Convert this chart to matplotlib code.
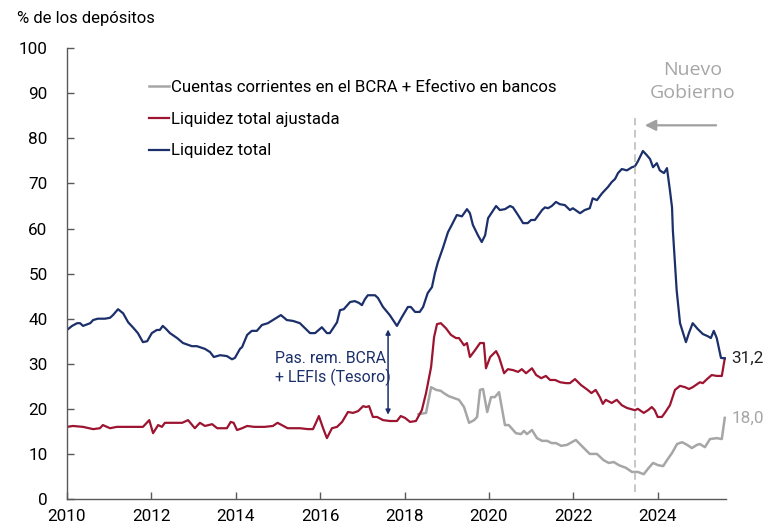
import matplotlib
matplotlib.use("Agg")
import matplotlib.pyplot as plt

plt.rcParams['font.family'] = ['Roboto', 'DejaVu Sans']

# Liquidez total (decimal year, % of deposits)
blue_x = [2010.0, 2010.12, 2010.24, 2010.31, 2010.38, 2010.55, 2010.62, 2010.73, 2010.90, 2011.02,
          2011.09, 2011.21, 2011.33, 2011.45, 2011.56, 2011.68, 2011.80, 2011.90, 2012.01, 2012.13,
          2012.20, 2012.27, 2012.35, 2012.44, 2012.61, 2012.75, 2012.96, 2013.08, 2013.27, 2013.39,
          2013.48, 2013.63, 2013.79, 2013.91, 2013.98, 2014.10, 2014.15, 2014.27, 2014.38, 2014.50,
          2014.62, 2014.69, 2014.76, 2014.88, 2015.07, 2015.21, 2015.36, 2015.52, 2015.64, 2015.76,
          2015.88, 2016.04, 2016.16, 2016.23, 2016.40, 2016.47, 2016.56, 2016.71, 2016.82, 2016.92,
          2016.99, 2017.06, 2017.13, 2017.30, 2017.37, 2017.49, 2017.65, 2017.82, 2017.94, 2018.08,
          2018.15, 2018.25, 2018.36, 2018.44, 2018.55, 2018.65, 2018.72, 2018.79, 2018.91, 2019.03,
          2019.12, 2019.24, 2019.36, 2019.48, 2019.55, 2019.62, 2019.74, 2019.83, 2019.91, 2019.98,
          2020.07, 2020.17, 2020.26, 2020.38, 2020.50, 2020.57, 2020.69, 2020.81, 2020.92, 2021.00,
          2021.09, 2021.26, 2021.33, 2021.40, 2021.49, 2021.59, 2021.68, 2021.80, 2021.92, 2021.99,
          2022.16, 2022.27, 2022.39, 2022.46, 2022.56, 2022.68, 2022.82, 2022.91, 2022.99, 2023.06,
          2023.15, 2023.27, 2023.39, 2023.46, 2023.53, 2023.65, 2023.74, 2023.82, 2023.89, 2023.98,
          2024.05, 2024.15, 2024.22, 2024.29, 2024.34, 2024.36, 2024.41, 2024.45, 2024.53, 2024.67,
          2024.74, 2024.83, 2024.95, 2025.07, 2025.19, 2025.26, 2025.33, 2025.40, 2025.50, 2025.59]
blue_y = [37.5, 38.4, 39.0, 39.0, 38.4, 39.0, 39.7, 40.0, 40.0, 40.2,
          40.8, 42.1, 41.2, 39.2, 38.1, 36.8, 34.8, 35.0, 36.8, 37.5,
          37.5, 38.4, 37.7, 36.8, 35.7, 34.6, 33.9, 33.9, 33.3, 32.6,
          31.5, 31.9, 31.7, 31.0, 31.3, 33.3, 33.7, 36.4, 37.3, 37.3,
          38.6, 38.8, 39.0, 39.7, 40.8, 39.7, 39.5, 39.0, 37.9, 36.8,
          36.8, 38.1, 36.8, 36.8, 39.2, 41.9, 42.1, 43.7, 43.9, 43.5,
          43.0, 44.3, 45.2, 45.2, 44.6, 42.6, 40.8, 38.4, 40.4, 42.6,
          42.6, 41.5, 41.5, 42.6, 45.7, 47.0, 50.1, 52.5, 55.7, 59.2,
          60.8, 63.0, 62.7, 64.3, 63.4, 60.8, 58.5, 57.0, 58.5, 62.3,
          63.6, 65.0, 64.1, 64.3, 65.0, 64.7, 63.0, 61.2, 61.2, 61.9,
          61.9, 64.1, 64.7, 64.5, 65.0, 65.9, 65.4, 65.2, 64.1, 64.5,
          63.4, 64.1, 64.5, 66.7, 66.3, 67.8, 69.2, 70.3, 71.0, 72.3,
          73.2, 72.9, 73.6, 73.8, 74.9, 77.2, 76.3, 75.4, 73.6, 74.5,
          72.9, 72.3, 73.4, 68.5, 64.7, 59.6, 52.3, 46.3, 39.0, 34.8,
          36.8, 39.0, 37.7, 36.6, 36.1, 35.7, 37.3, 35.7, 31.3, 31.2]

# Liquidez total ajustada
red_x = [2010.0, 2010.14, 2010.38, 2010.62, 2010.78, 2010.85, 2011.02, 2011.18, 2011.42, 2011.66,
         2011.80, 2011.95, 2012.04, 2012.16, 2012.25, 2012.32, 2012.51, 2012.73, 2012.87, 2013.03,
         2013.15, 2013.27, 2013.44, 2013.56, 2013.79, 2013.88, 2013.95, 2014.03, 2014.15, 2014.27,
         2014.44, 2014.68, 2014.88, 2014.99, 2015.23, 2015.52, 2015.71, 2015.83, 2015.90, 2015.97,
         2016.07, 2016.16, 2016.28, 2016.40, 2016.52, 2016.66, 2016.78, 2016.90, 2017.02, 2017.09,
         2017.16, 2017.25, 2017.35, 2017.49, 2017.65, 2017.82, 2017.91, 2018.01, 2018.13, 2018.27,
         2018.41, 2018.51, 2018.63, 2018.70, 2018.77, 2018.86, 2018.98, 2019.10, 2019.22, 2019.29,
         2019.41, 2019.48, 2019.55, 2019.67, 2019.79, 2019.88, 2019.93, 2020.03, 2020.17, 2020.24,
         2020.36, 2020.45, 2020.57, 2020.69, 2020.78, 2020.88, 2021.02, 2021.12, 2021.24, 2021.35,
         2021.45, 2021.57, 2021.69, 2021.83, 2021.92, 2022.04, 2022.18, 2022.34, 2022.43, 2022.53,
         2022.63, 2022.70, 2022.77, 2022.91, 2023.03, 2023.15, 2023.27, 2023.46, 2023.53, 2023.67,
         2023.77, 2023.86, 2023.93, 2024.00, 2024.10, 2024.17, 2024.29, 2024.41, 2024.53, 2024.65,
         2024.74, 2024.83, 2025.00, 2025.07, 2025.17, 2025.28, 2025.40, 2025.52, 2025.59]
red_y = [16.0, 16.2, 16.0, 15.5, 15.7, 16.4, 15.7, 16.0, 16.0, 16.0,
         16.0, 17.5, 14.6, 16.4, 16.0, 16.9, 16.9, 16.9, 17.5, 15.7,
         16.9, 16.2, 16.6, 15.7, 15.7, 17.1, 16.9, 15.3, 15.7, 16.2,
         16.0, 16.0, 16.2, 16.9, 15.7, 15.7, 15.5, 15.5, 16.9, 18.4,
         15.7, 13.5, 15.7, 16.0, 17.1, 19.3, 19.1, 19.5, 20.6, 20.4,
         20.6, 18.2, 18.2, 17.5, 17.3, 17.3, 18.4, 18.0, 17.1, 17.3,
         19.7, 23.5, 29.3, 35.9, 38.8, 39.0, 37.9, 36.4, 35.7, 35.7,
         34.1, 34.6, 31.5, 33.0, 34.6, 34.6, 29.0, 31.5, 32.8, 31.5,
         27.9, 28.8, 28.6, 28.2, 28.8, 27.9, 29.0, 27.5, 26.8, 27.3,
         26.4, 26.4, 25.9, 25.7, 25.7, 26.6, 25.3, 24.2, 23.5, 24.2,
         22.6, 21.1, 22.0, 21.3, 22.0, 20.8, 20.2, 19.7, 20.0, 19.1,
         19.7, 20.4, 19.7, 18.2, 18.2, 19.1, 20.8, 24.2, 25.1, 24.8,
         24.4, 24.8, 25.9, 25.7, 26.6, 27.5, 27.3, 27.3, 31.2]

# Cuentas corrientes en el BCRA + Efectivo en bancos
gray_x = [2018.33, 2018.51, 2018.63, 2018.75, 2018.86, 2018.93, 2019.05, 2019.17, 2019.29, 2019.41,
          2019.53, 2019.65, 2019.72, 2019.79, 2019.86, 2019.96, 2020.05, 2020.14, 2020.24, 2020.38,
          2020.47, 2020.64, 2020.76, 2020.83, 2020.90, 2021.02, 2021.14, 2021.26, 2021.38, 2021.49,
          2021.59, 2021.71, 2021.85, 2022.06, 2022.25, 2022.39, 2022.56, 2022.72, 2022.84, 2022.96,
          2023.08, 2023.25, 2023.39, 2023.53, 2023.67, 2023.77, 2023.89, 2024.01, 2024.13, 2024.22,
          2024.34, 2024.46, 2024.58, 2024.70, 2024.81, 2024.93, 2025.00, 2025.12, 2025.24, 2025.40,
          2025.52, 2025.59]
gray_y = [18.8, 19.1, 24.8, 24.2, 24.0, 23.5, 22.8, 22.4, 22.0, 20.4,
          16.9, 17.5, 18.2, 24.2, 24.4, 19.3, 22.6, 22.6, 23.7, 16.4,
          16.4, 14.6, 14.4, 15.1, 14.4, 15.3, 13.5, 12.9, 12.9, 12.4,
          12.4, 11.8, 12.0, 13.1, 11.3, 10.0, 10.0, 8.6, 8.0, 8.2,
          7.5, 6.9, 6.0, 6.0, 5.5, 6.7, 8.0, 7.5, 7.3, 8.6,
          10.2, 12.2, 12.6, 12.0, 11.3, 12.0, 12.2, 11.5, 13.3, 13.5,
          13.3, 18.0]

legend_labels = ['Cuentas corrientes en el BCRA + Efectivo en bancos',
                 'Liquidez total ajustada', 'Liquidez total']
end_labels = ['31,2', '18,0']
year_ticks = [2010, 2012, 2014, 2016, 2018, 2020, 2022, 2024]
value_ticks = [0, 10, 20, 30, 40, 50, 60, 70, 80, 90, 100]
new_gov = 2023.46

c_blue = '#1b2f6b'
c_red = '#9c1430'
c_gray = '#a6a6a6'

fig = plt.figure(figsize=(7.79, 5.30), dpi=100)
ax = fig.add_axes([0.086, 0.0585, 0.846, 0.8505])

l_gray, = ax.plot(gray_x, gray_y, color=c_gray, lw=1.8)
l_red, = ax.plot(red_x, red_y, color=c_red, lw=1.6)
l_blue, = ax.plot(blue_x, blue_y, color=c_blue, lw=1.6)

ax.set_xlim(2010, 2025.62)
ax.set_ylim(0, 100)
ax.set_xticks(year_ticks)
ax.set_yticks(value_ticks)
ax.tick_params(direction='in', length=5, width=1, color='#595959', labelsize=12.3)
ax.tick_params(axis='y', pad=14)
ax.tick_params(axis='x', pad=7)
for side in ['top', 'right']:
    ax.spines[side].set_visible(False)
for side in ['left', 'bottom']:
    ax.spines[side].set_color('#595959')
    ax.spines[side].set_linewidth(1)

ax.legend([l_gray, l_red, l_blue], legend_labels, loc='upper left',
          bbox_to_anchor=(0.124, 0.93), frameon=False, fontsize=12.1,
          handlelength=1.2, handletextpad=0.1, labelspacing=1.0, borderaxespad=0,
          borderpad=0)

fig.text(0.022, 0.965, '% de los depósitos', fontsize=12, va='center', ha='left')

# new government marker
ax.plot([new_gov, new_gov], [1.5, 84.5], color='#b8b8b8', lw=1.1, ls=(0, (5, 3)))
ax.annotate('', xy=(2023.63, 82.9), xytext=(2025.45, 82.9),
            arrowprops=dict(arrowstyle='-|>', color='#a0a0a0', lw=1.6, mutation_scale=16))
ax.text(2024.83, 92.6, 'Nuevo\nGobierno', color='#a6a6a6', fontsize=14,
        family=['Open Sans', 'DejaVu Sans'], ha='center', va='center', linespacing=1.35)

# gap annotation
ax.annotate('', xy=(2017.61, 18.7), xytext=(2017.61, 37.6),
            arrowprops=dict(arrowstyle='<|-|>', color=c_blue, lw=1.1, mutation_scale=7,
                            shrinkA=0, shrinkB=0))
ax.text(2014.93, 29.0, 'Pas. rem. BCRA\n+ LEFIs (Tesoro)', color=c_blue, fontsize=11.4,
        ha='left', va='center', linespacing=1.2)

ax.text(2025.75, blue_y[-1], end_labels[0], color='#222222', fontsize=12.3, va='center', ha='left',
        clip_on=False)
ax.text(2025.75, gray_y[-1], end_labels[1], color=c_gray, fontsize=12.3, va='center', ha='left',
        clip_on=False)

fig.savefig('out.png', dpi=100)
